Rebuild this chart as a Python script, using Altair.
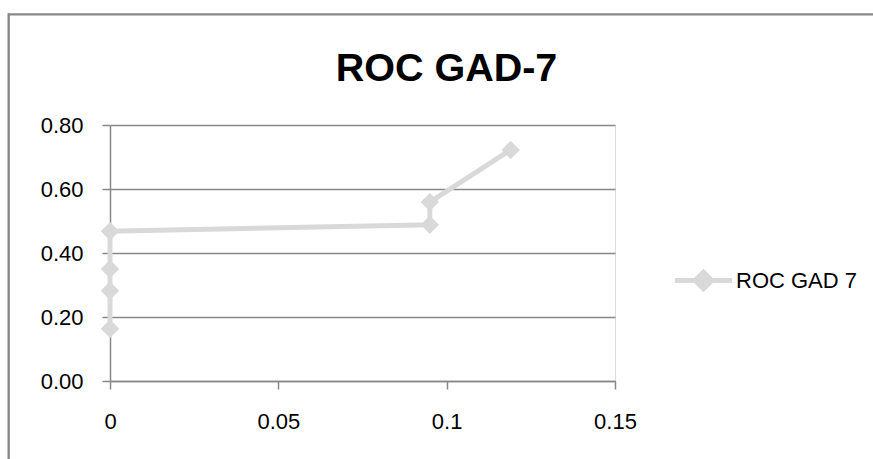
import altair as alt
import pandas as pd

# data
fpr = [0, 0, 0, 0, 0.095, 0.095, 0.119]
tpr = [0.163, 0.282, 0.350, 0.468, 0.488, 0.559, 0.722]
series_name = "ROC GAD 7"
x_ticks = [0, 0.05, 0.1, 0.15]
y_ticks = [0.0, 0.2, 0.4, 0.6, 0.8]

df = pd.DataFrame({"x": fpr, "y": tpr, "order": list(range(len(fpr))), "s": [series_name] * len(fpr)})

W, H = 505, 256
PL, PT = 110, 125
GRAY = "#d9d9d9"
AX = "#888888"
FONT = "Liberation Sans"

xs = alt.X("x:Q", scale=alt.Scale(domain=[0, 0.15], nice=False, zero=False),
           axis=alt.Axis(values=x_ticks, format=".2~f", grid=False, title=None,
                         tickSize=8, labelPadding=22, domainColor=AX, tickColor=AX,
                         domainWidth=1.5, tickWidth=1.5, labelFontSize=22, labelFlush=False,
                         labelFont=FONT, labelColor="black"))
ys = alt.Y("y:Q", scale=alt.Scale(domain=[0, 0.8], nice=False),
           axis=alt.Axis(values=y_ticks, format=".2f", grid=True, title=None,
                         tickSize=8, labelPadding=19, domainColor=AX, tickColor=AX,
                         gridColor=AX, gridWidth=1.5, domainWidth=1.5, tickWidth=1.5,
                         labelFontSize=22, labelFont=FONT, labelColor="black"))

line = alt.Chart(df).mark_line(color=GRAY, strokeWidth=5).encode(
    x=xs, y=ys, order="order:Q")

pts = alt.Chart(df).mark_point(shape="diamond", filled=True, size=340, opacity=1, strokeWidth=0).encode(
    x="x:Q", y="y:Q",
    color=alt.Color("s:N", scale=alt.Scale(domain=[series_name], range=[GRAY]),
                    legend=alt.Legend(title=None, orient="none", legendX=580, legendY=142,
                                      symbolType="M-2.6,0H2.6M0,-0.75L0.75,0L0,0.75L-0.75,0Z",
                                      symbolSize=484, symbolStrokeWidth=5,
                                      symbolFillColor=GRAY, symbolStrokeColor=GRAY,
                                      labelOffset=19, labelFontSize=22, labelFont=FONT,
                                      labelColor="black", padding=0)))

blank = alt.InlineData(values=[{"k": 0}])
frame_top = alt.Chart(blank).mark_rule(color=AX, strokeWidth=2.2).encode(
    x=alt.value(-102), x2=alt.value(800), y=alt.value(14.3 - PT))
frame_left = alt.Chart(blank).mark_rule(color=AX, strokeWidth=2.4).encode(
    x=alt.value(8.7 - PL), y=alt.value(14.3 - PT - 1), y2=alt.value(400))

chart = alt.layer(frame_top, frame_left, line, pts).properties(
    width=W, height=H,
    autosize=alt.AutoSizeParams(type="none"),
    padding={"left": PL, "top": PT, "right": 873 - PL - W, "bottom": 459 - PT - H},
    title=alt.TitleParams("ROC GAD-7", font=FONT, fontSize=39.5, fontWeight="bold",
                          color="black", anchor="middle", frame="group", dx=84, offset=-77),
).configure_view(stroke=None).configure(background="white")

chart.save("out.html", embed_options={"renderer": "svg", "actions": False})
